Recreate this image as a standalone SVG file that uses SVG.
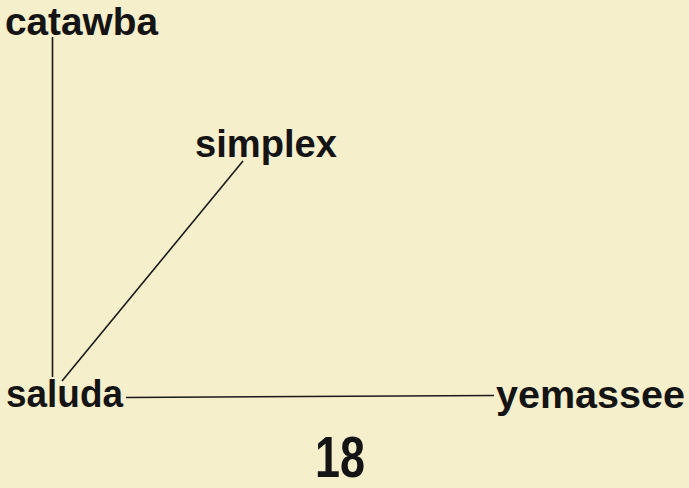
<svg xmlns="http://www.w3.org/2000/svg" width="689" height="488" viewBox="0 0 689 488">
<style>
.lbl{font-family:"Liberation Sans",Arial,sans-serif;font-weight:bold;font-size:38px;fill:#141414}
.edge{stroke:#1a1a1a;stroke-width:1.6;fill:none}
</style>
<rect width="689" height="488" fill="#f6efcb"/>
<g id="connectors">
<line class="edge" x1="52.5" y1="37" x2="52.5" y2="377"/>
<line class="edge" x1="243" y1="161" x2="62" y2="381"/>
<line class="edge" x1="126" y1="397.5" x2="494" y2="395.5"/>
</g>
<g id="catawba"><text class="lbl" x="5" y="35" textLength="153" lengthAdjust="spacingAndGlyphs">catawba</text></g>
<g id="simplex"><text class="lbl" x="195" y="157" textLength="142" lengthAdjust="spacingAndGlyphs">simplex</text></g>
<g id="saluda"><text class="lbl" x="6" y="407" textLength="117" lengthAdjust="spacingAndGlyphs">saluda</text></g>
<g id="yemassee"><text class="lbl" x="496" y="408" textLength="189" lengthAdjust="spacingAndGlyphs">yemassee</text></g>
<g id="page"><text class="lbl" x="315" y="477" style="font-size:57px" textLength="50" lengthAdjust="spacingAndGlyphs">18</text></g>
</svg>
